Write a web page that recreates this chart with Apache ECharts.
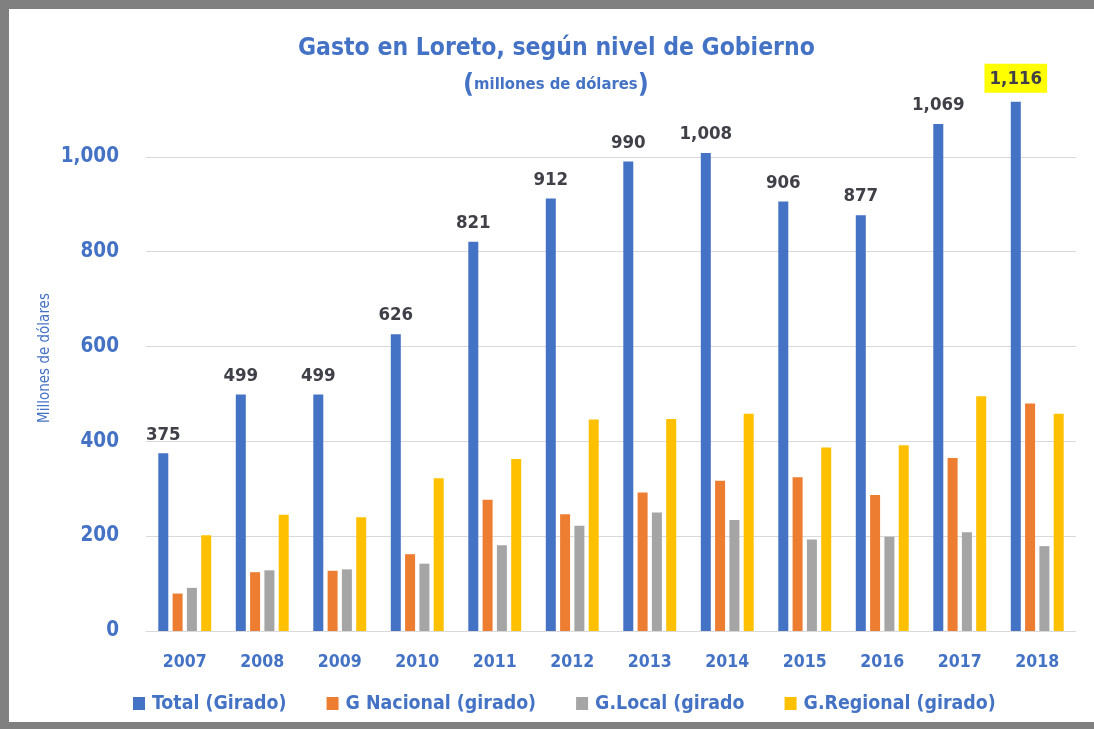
<!DOCTYPE html>
<html>
<head>
<meta charset="utf-8">
<script src="https://cdn.jsdelivr.net/npm/echarts@6/dist/echarts.min.js"></script>
<style>
  html, body { margin: 0; padding: 0; background: #fff; }
  #chart { width: 1094px; height: 729px; }
</style>
</head>
<body>
<div id="chart"></div>
<script>
const years = ['2007', '2008', '2009', '2010', '2011', '2012', '2013', '2014', '2015', '2016', '2017', '2018']
const total = [375, 499, 499, 626, 821, 912, 990, 1008, 906, 877, 1069, 1116]
const nacional = [79, 124, 127, 162, 277, 246, 292, 317, 324, 287, 365, 480]
const local = [91, 128, 130, 142, 181, 222, 250, 234, 193, 199, 208, 179]
const regional = [202, 245, 240, 322, 363, 446, 447, 458, 387, 392, 495, 458]
const seriesNames = ['Total (Girado)', 'G Nacional (girado)', 'G.Local (girado', 'G.Regional (girado)']
const colors = ['#4472c4', '#ed7d31', '#a5a5a5', '#ffc000']

const FONT = "'DejaVu Sans Condensed', 'Liberation Sans', sans-serif"
const BLUE = '#4472c4'

const chart = echarts.init(document.getElementById('chart'))

// resaltar el ultimo año
const totalData = total.map((v, i) => i === total.length - 1
  ? { value: v, label: { backgroundColor: '#ffff00', padding: [6, 5, 4, 5] } }
  : v)

const fmt = v => Number(v).toLocaleString('en-US')

const option = {
  color: colors,
  textStyle: { fontFamily: FONT },
  title: [
    {
      text: 'Gasto en Loreto, según nivel de Gobierno',
      left: 293,
      top: 31,
      textStyle: { color: BLUE, fontSize: 24.5, fontWeight: 'bold', fontFamily: FONT }
    },
    {
      text: '{p|(}{t|millones de dólares}{p|)}',
      left: 458,
      top: 66,
      textStyle: {
        rich: {
          p: { color: BLUE, fontSize: 27, fontFamily: FONT },
          t: { color: BLUE, fontSize: 16.5, fontWeight: 'bold', fontFamily: FONT }
        }
      }
    }
  ],
  legend: {
    left: 128,
    top: 689,
    icon: 'rect',
    itemWidth: 12,
    itemHeight: 13,
    itemGap: 40,
    textStyle: { color: BLUE, fontSize: 19.4, fontWeight: 'bold', fontFamily: FONT, padding: [0, 0, 0, 2] },
    data: seriesNames
  },
  grid: { left: 146, right: 18, top: 62, bottom: 98 },
  xAxis: {
    type: 'category',
    data: years,
    axisLine: { lineStyle: { color: '#d9d9d9' } },
    axisTick: { show: false },
    axisLabel: { color: BLUE, fontSize: 17.5, fontWeight: 'bold', fontFamily: FONT, margin: 22 }
  },
  yAxis: {
    type: 'value',
    min: 0,
    max: 1200,
    interval: 200,
    axisLine: { show: false },
    axisTick: { show: false },
    axisLabel: {
      color: BLUE, fontSize: 20.5, fontWeight: 'bold', fontFamily: FONT, margin: 27,
      showMaxLabel: false,
      formatter: v => fmt(v)
    },
    splitLine: { show: true, showMaxLine: false, lineStyle: { color: '#d9d9d9' } }
  },
  series: [
    {
      name: seriesNames[0], type: 'bar', data: totalData, barWidth: 10, barGap: '43%',
      label: {
        show: true, position: 'top', distance: 9,
        color: '#404048', fontSize: 18.5, fontWeight: 'bold', fontFamily: FONT,
        formatter: p => fmt(p.value)
      }
    },
    { name: seriesNames[1], type: 'bar', data: nacional, barWidth: 10, barGap: '43%' },
    { name: seriesNames[2], type: 'bar', data: local, barWidth: 10, barGap: '43%' },
    { name: seriesNames[3], type: 'bar', data: regional, barWidth: 10, barGap: '43%' }
  ],
  graphic: [
    // titulo del eje y
    {
      type: 'text', x: 45, y: 358, rotation: Math.PI / 2,
      style: {
        text: 'Millones de dólares', fill: BLUE, fontSize: 15, fontFamily: FONT,
        align: 'center', verticalAlign: 'middle'
      }
    },
    // marco gris
    { type: 'rect', shape: { x: 0, y: 0, width: 1094, height: 9 }, style: { fill: '#808080' } },
    { type: 'rect', shape: { x: 0, y: 0, width: 9, height: 729 }, style: { fill: '#808080' } },
    { type: 'rect', shape: { x: 0, y: 722, width: 1094, height: 7 }, style: { fill: '#808080' } }
  ]
}

chart.setOption(option)
</script>
</body>
</html>
